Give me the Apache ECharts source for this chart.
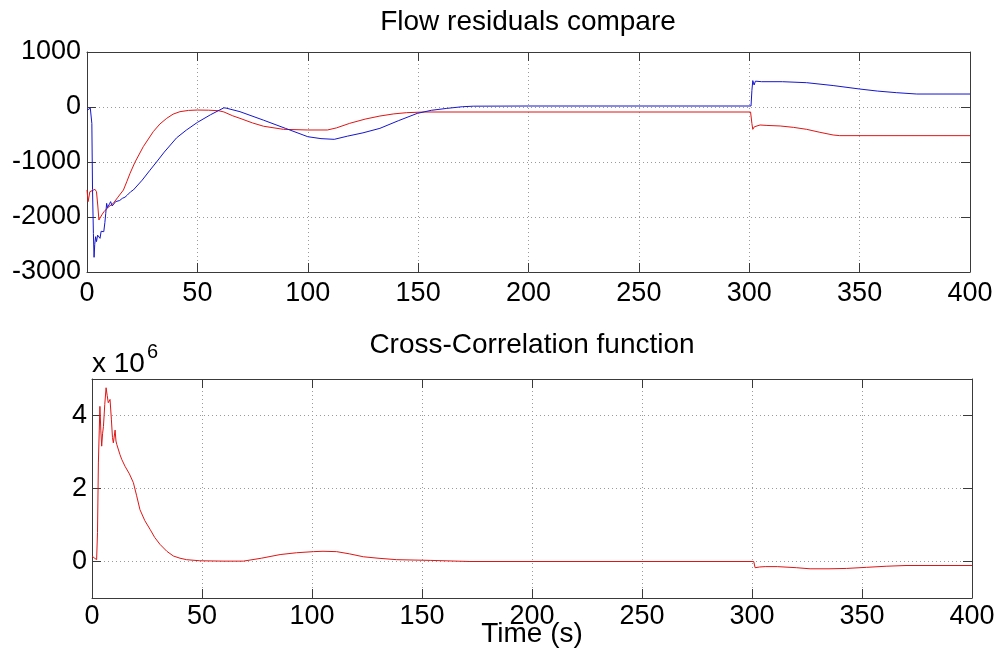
<!DOCTYPE html>
<html>
<head>
<meta charset="utf-8">
<script src="https://cdn.jsdelivr.net/npm/echarts@6/dist/echarts.min.js"></script>
<style>
html,body{margin:0;padding:0;background:#fff;}
#chart{width:1002px;height:661px;}
</style>
</head>
<body>
<div id="chart"></div>
<script>
// ---- Data ----
var xTicks = [0, 50, 100, 150, 200, 250, 300, 350, 400];
var flowYTicks = [-3000, -2000, -1000, 0, 1000];
var ccfYTicks = [0, 2, 4];

// Blue flow residual: time (s) and value
var blueT = [0, 0.8, 1.5, 1.9, 2.2, 2.5, 2.9, 3.2, 3.5, 3.9, 4.3, 4.8, 5.4, 5.9, 6.4, 6.9, 7.6, 8.1, 8.5, 8.9, 9.3, 9.6, 10.2, 10.7, 11.4, 12.2, 13, 13.7, 14.8, 16, 17.2, 18.3, 19.8, 21, 25, 28.5, 31.5, 35, 40.6, 45, 50, 56, 62, 63, 69.3, 80, 90, 100, 106, 112, 118, 125, 132.7, 141, 149.6, 156, 163, 170, 175, 200, 250, 300.8, 301.2, 301.6, 302.2, 302.8, 303.5, 305.6, 315, 326, 338, 350, 358, 366.8, 375.9, 400];
var blueV = [-60, -50, -20, 0, -300, -1500, -2300, -2733, -2500, -2358, -2448, -2330, -2297, -2388, -2260, -2236, -2267, -2100, -1933, -1752, -1830, -1842, -1760, -1721, -1800, -1782, -1720, -1690, -1700, -1661, -1640, -1600, -1540, -1509, -1330, -1150, -1000, -820, -560, -420, -280, -140, -15, -20, -85, -240, -390, -540, -575, -588, -530, -470, -388, -250, -116, -60, -25, 5, 15, 18, 18, 18, 300, 480, 400, 470, 440, 460, 460, 442, 390, 327, 290, 260, 236, 236];

// Red flow residual
var redT = [0, 0.5, 1.3, 2.1, 3.6, 4.3, 4.9, 5.4, 6.2, 6.9, 7.7, 8.4, 9.9, 11.9, 14, 16.5, 18, 19.5, 21.7, 25.5, 30, 33, 36.1, 39, 42.1, 46, 50, 55, 59.5, 62, 66, 69.3, 75, 80, 89, 100, 108.9, 113, 119, 126, 132.7, 139, 144.8, 153, 300.6, 301.2, 301.6, 302.3, 303.2, 304.9, 308, 314, 320, 326, 332, 338, 341, 400];
var redV = [-1509, -1720, -1540, -1509, -1497, -1540, -1800, -2054, -2085, -1950, -1903, -1873, -1812, -1752, -1640, -1509, -1360, -1206, -1006, -721, -449, -310, -206, -130, -85, -62, -55, -58, -67, -90, -160, -206, -290, -350, -406, -418, -418, -380, -297, -220, -164, -125, -103, -91, -91, -300, -406, -360, -390, -327, -335, -345, -370, -406, -460, -509, -521, -521];

// Cross-correlation function (units of 1e6)
var ccfT = [0, 1, 2.1, 2.5, 2.9, 3.3, 3.6, 4.0, 4.4, 4.8, 5.2, 5.8, 6.4, 6.9, 7.4, 8.2, 8.8, 9.3, 9.7, 10.5, 10.9, 11.3, 12.7, 13.5, 15, 17, 18.8, 20.3, 21.8, 24, 26.4, 28.5, 30.9, 34, 37, 40, 43, 49, 60, 68.8, 77, 85.5, 93, 100.6, 105, 111.2, 117, 123.3, 130, 138.5, 154, 171.8, 300.8, 301.4, 302.2, 303.5, 306, 311.5, 320.3, 326.4, 335, 343, 352, 361, 370, 400];
var ccfV = [0.15, 0.10, 0.05, 0.8, 2.7, 3.6, 4.25, 3.6, 3.16, 3.5, 3.7, 4.3, 4.76, 4.55, 4.35, 4.44, 3.9, 3.4, 3.25, 3.6, 3.3, 3.2, 2.93, 2.8, 2.61, 2.4, 2.16, 1.8, 1.42, 1.12, 0.88, 0.66, 0.47, 0.28, 0.15, 0.09, 0.05, 0.02, 0.01, 0.01, 0.09, 0.19, 0.24, 0.27, 0.28, 0.27, 0.21, 0.13, 0.09, 0.05, 0.03, 0.0, 0.0, -0.17, -0.12, -0.15, -0.14, -0.14, -0.17, -0.2, -0.2, -0.19, -0.16, -0.13, -0.11, -0.11];

var titles = ['Flow residuals compare', 'Cross-Correlation function'];
var xLabel = 'Time (s)';

function pairs(t, v) { return t.map(function (x, i) { return [x, v[i]]; }); }
function plain(v) { return String(v); }

var FONT = "'Liberation Sans', Arial, Helvetica, sans-serif";
var FRAME = '#3a3a3a';
var GRID = '#9a9a9a';

function xAxisDef(gi, pos, showLabels, margin) {
  return {
    type: 'value', gridIndex: gi, position: pos, min: 0, max: 400, interval: 50,
    axisLine: { show: true, onZero: false, lineStyle: { color: FRAME, width: 1 } },
    axisTick: { show: true, inside: true, length: 9, lineStyle: { color: FRAME } },
    axisLabel: { show: showLabels, fontSize: 27, fontFamily: FONT, color: '#000', margin: margin, formatter: plain },
    splitLine: { show: pos === 'bottom', lineStyle: { color: GRID, type: [1, 3], width: 1 } }
  };
}

var option = {
  animation: false,
  backgroundColor: '#fff',
  grid: [
    { left: 87, right: 32, top: 52, height: 220, containLabel: false },
    { left: 92, right: 30, top: 379, height: 219, containLabel: false }
  ],
  xAxis: [
    xAxisDef(0, 'bottom', true, 8),
    xAxisDef(0, 'top', false, 8),
    xAxisDef(1, 'bottom', true, 5),
    xAxisDef(1, 'top', false, 5)
  ],
  yAxis: [
    {
      type: 'value', gridIndex: 0, position: 'left', min: -3000, max: 1000, interval: 1000,
      axisLine: { show: true, onZero: false, lineStyle: { color: FRAME } },
      axisTick: { show: true, inside: true, length: 9, lineStyle: { color: FRAME } },
      axisLabel: { fontSize: 27, fontFamily: FONT, color: '#000', margin: 6, formatter: plain },
      splitLine: { show: true, lineStyle: { color: GRID, type: [1, 3], width: 1 } }
    },
    {
      type: 'value', gridIndex: 0, position: 'right', min: -3000, max: 1000, interval: 1000,
      axisLine: { show: true, onZero: false, lineStyle: { color: FRAME } },
      axisTick: { show: true, inside: true, length: 9, lineStyle: { color: FRAME } },
      axisLabel: { show: false },
      splitLine: { show: false }
    },
    {
      type: 'value', gridIndex: 1, position: 'left', min: -1, max: 5,
      axisLine: { show: true, onZero: false, lineStyle: { color: FRAME } },
      axisTick: { show: true, inside: true, length: 9, customValues: ccfYTicks, lineStyle: { color: FRAME } },
      axisLabel: { fontSize: 27, fontFamily: FONT, color: '#000', margin: 5, customValues: ccfYTicks, formatter: plain },
      splitLine: { show: true, lineStyle: { color: GRID, type: [1, 3], width: 1 } }
    },
    {
      type: 'value', gridIndex: 1, position: 'right', min: -1, max: 5,
      axisLine: { show: true, onZero: false, lineStyle: { color: FRAME } },
      axisTick: { show: true, inside: true, length: 9, customValues: ccfYTicks, lineStyle: { color: FRAME } },
      axisLabel: { show: false },
      splitLine: { show: false }
    }
  ],
  series: [
    {
      type: 'line', xAxisIndex: 0, yAxisIndex: 0, data: pairs(redT, redV),
      showSymbol: false, lineStyle: { color: '#e01515', width: 1 }, z: 3
    },
    {
      type: 'line', xAxisIndex: 0, yAxisIndex: 0, data: pairs(blueT, blueV),
      showSymbol: false, lineStyle: { color: '#1515d0', width: 1 }, z: 4
    },
    {
      type: 'line', xAxisIndex: 2, yAxisIndex: 2, data: pairs(ccfT, ccfV),
      showSymbol: false, lineStyle: { color: '#e01515', width: 1 }, z: 3
    }
  ],
  graphic: [
    { type: 'text', style: { x: 528, y: 22, text: titles[0], fontSize: 28, fontFamily: FONT, fill: '#000', textAlign: 'center', textVerticalAlign: 'middle' } },
    { type: 'text', style: { x: 532, y: 345, text: titles[1], fontSize: 28, fontFamily: FONT, fill: '#000', textAlign: 'center', textVerticalAlign: 'middle' } },
    { type: 'text', style: { x: 532, y: 634, text: xLabel, fontSize: 28, fontFamily: FONT, fill: '#000', textAlign: 'center', textVerticalAlign: 'middle' } },
    { type: 'text', style: { x: 92, y: 364, text: 'x 10', fontSize: 28, fontFamily: FONT, fill: '#000', textAlign: 'left', textVerticalAlign: 'middle' } },
    { type: 'text', style: { x: 147, y: 352, text: '6', fontSize: 20, fontFamily: FONT, fill: '#000', textAlign: 'left', textVerticalAlign: 'middle' } }
  ]
};

var chart = echarts.init(document.getElementById('chart'), null, { renderer: 'canvas' });
chart.setOption(option);
</script>
</body>
</html>
